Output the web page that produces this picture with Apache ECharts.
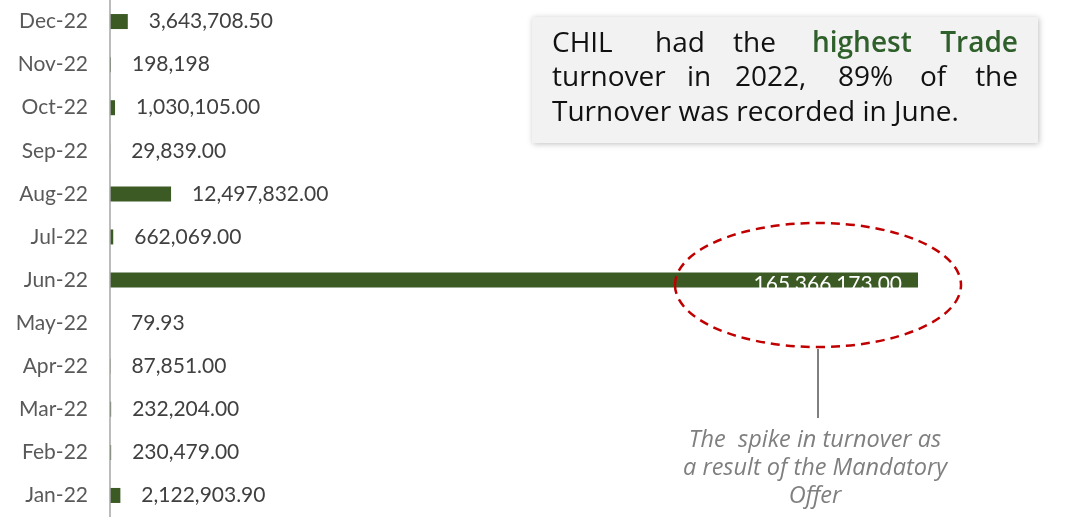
<!DOCTYPE html>
<html>
<head>
<meta charset="utf-8">
<script src="https://cdn.jsdelivr.net/npm/echarts@6/dist/echarts.min.js"></script>
<style>
  html, body { margin: 0; padding: 0; background: #fff; }
  #chart { width: 1076px; height: 517px; }
</style>
</head>
<body>
<div id="chart"></div>
<script>
// months, bottom to top
const months = ['Jan-22', 'Feb-22', 'Mar-22', 'Apr-22', 'May-22', 'Jun-22', 'Jul-22', 'Aug-22', 'Sep-22', 'Oct-22', 'Nov-22', 'Dec-22']
const turnover = [2122903.90, 230479.00, 232204.00, 87851.00, 79.93, 165366173.00, 662069.00, 12497832.00, 29839.00, 1030105.00, 198198, 3643708.50]
const turnoverLabels = ['2,122,903.90', '230,479.00', '232,204.00', '87,851.00', '79.93', '165,366,173.00', '662,069.00', '12,497,832.00', '29,839.00', '1,030,105.00', '198,198', '3,643,708.50']
const spikeMonth = 'Jun-22'

const green = '#3b5a24'
const font = 'Lato, "Noto Sans", sans-serif'
const noteFont = '"Open Sans", "Noto Sans", sans-serif'

const chart = echarts.init(document.getElementById('chart'))

// justified note in the top right box: each word placed on its own
const noteWords = [
  { t: 'CHIL', x: 552, y: 44 }, { t: 'had', x: 655, y: 44 }, { t: 'the', x: 733, y: 44 },
  { t: 'highest', x: 812, y: 44, c: '#2f5f2a', b: true }, { t: 'Trade', x: 1018, y: 44, c: '#2f5f2a', b: true, r: true },
  { t: 'turnover', x: 552, y: 78 }, { t: 'in', x: 687, y: 78 }, { t: '2022,', x: 735, y: 78 },
  { t: '89%', x: 838, y: 78 }, { t: 'of', x: 920, y: 78 }, { t: 'the', x: 1018, y: 78, r: true },
  { t: 'Turnover was recorded in June.', x: 552, y: 113 }
]

chart.setOption({
  animation: false,
  grid: { left: 110, width: 808, top: -4, height: 523 },
  xAxis: {
    type: 'value',
    min: 0,
    max: 165366173,
    show: false
  },
  yAxis: {
    type: 'category',
    data: months,
    z: 3,
    axisLine: { show: true, lineStyle: { color: '#a6a6a6', width: 1.5 } },
    axisTick: { show: false },
    axisLabel: { color: '#595959', fontSize: 21, fontFamily: font, margin: 22 }
  },
  series: [{
    type: 'bar',
    barWidth: 15,
    itemStyle: { color: green },
    label: {
      show: true,
      position: 'right',
      distance: 21,
      color: '#404040',
      fontSize: 21,
      fontFamily: font,
      formatter: p => turnoverLabels[p.dataIndex]
    },
    data: turnover.map((v, i) => months[i] === spikeMonth
      ? { value: v, label: { position: 'insideRight', distance: 16, color: '#fff', offset: [0, 4] } }
      : v)
  }],
  graphic: [
    {
      type: 'rect',
      shape: { x: 532, y: 17, width: 506, height: 126 },
      style: { fill: '#f2f2f2', shadowBlur: 6, shadowColor: 'rgba(0,0,0,0.25)', shadowOffsetX: 1, shadowOffsetY: 1 }
    },
    ...noteWords.map(w => ({
      type: 'text',
      x: w.x,
      y: w.y,
      style: {
        text: w.t,
        fill: w.c || '#111',
        fontSize: 28,
        fontWeight: w.b ? 600 : 'normal',
        fontFamily: noteFont,
        textAlign: w.r ? 'right' : 'left',
        textVerticalAlign: 'middle'
      }
    })),
    {
      type: 'ellipse',
      shape: { cx: 818, cy: 285, rx: 143, ry: 62 },
      style: { fill: 'none', stroke: '#c00000', lineWidth: 2.5, lineDash: [9, 6] },
      z: 10
    },
    {
      type: 'line',
      shape: { x1: 818, y1: 349, x2: 818, y2: 418 },
      style: { stroke: '#000', lineWidth: 1 }
    },
    {
      type: 'text',
      x: 815,
      y: 468,
      style: {
        text: 'The  spike in turnover as\na result of the Mandatory\nOffer',
        fill: '#7f7f7f',
        fontSize: 23.5,
        fontStyle: 'italic',
        fontFamily: noteFont,
        lineHeight: 28,
        textAlign: 'center',
        textVerticalAlign: 'middle'
      }
    }
  ]
})
</script>
</body>
</html>
